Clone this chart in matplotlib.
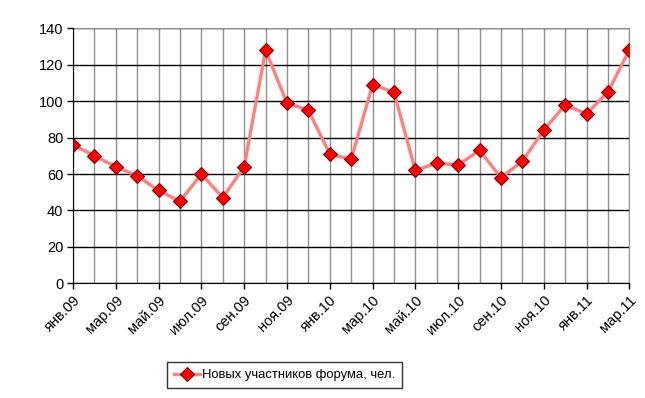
import matplotlib.pyplot as plt
from matplotlib.ticker import MultipleLocator

plt.rcParams["font.family"] = ["Liberation Sans", "DejaVu Sans"]

months = ["янв", "фев", "мар", "апр", "май", "июн", "июл", "авг", "сен", "окт", "ноя", "дек"]
dates = [f"{m}.{y}" for y in ("09", "10", "11") for m in months][:27]
new_members = [76, 70, 64, 59, 51, 45, 60, 47, 64, 128, 99, 95, 71, 68, 109, 105,
               62, 66, 65, 73, 58, 67, 84, 98, 93, 105, 128]
series_name = "Новых участников форума, чел."

W, H = 645, 398
fig = plt.figure(figsize=(W / 100, H / 100), dpi=100)
left, right, top, bottom = 73, 629.3, 28.3, 283.3
ax = fig.add_axes([left / W, (H - bottom) / H, (right - left) / W, (bottom - top) / H])

x = list(range(len(new_members)))
ax.plot(x, new_members, color="#ff8080", linewidth=2.4, marker="D", markersize=7.5,
        markerfacecolor="#ff0000", markeredgecolor="#800000", markeredgewidth=0.8,
        label=series_name, zorder=3)

ax.set_xlim(0, len(x) - 1)
ax.set_ylim(0, 140)
ax.yaxis.set_major_locator(MultipleLocator(20))
ax.set_xticks(x[::2])
ax.set_xticklabels(dates[::2], rotation=45, ha="right", va="top", rotation_mode="anchor")
ax.set_xticks(x, minor=True)
ax.tick_params(axis="x", which="minor", length=0)
ax.tick_params(axis="both", which="major", direction="out", length=4, width=1,
               color="black", labelsize=10.5, pad=3)

ax.grid(True, axis="y", color="black", linewidth=1)
ax.grid(True, axis="x", which="both", color="#909090", linewidth=1)
ax.set_axisbelow(True)

for side in ("top", "right"):
    ax.spines[side].set_color("#909090")
for side in ("left", "bottom"):
    ax.spines[side].set_color("black")
    ax.spines[side].set_zorder(4)

leg = fig.legend(loc="center", bbox_to_anchor=(284.5 / W, 1 - 375 / H), frameon=True,
                 fancybox=False, edgecolor="black", fontsize=9.4, handlelength=2.0,
                 borderpad=0.5, handletextpad=0.15, borderaxespad=0)
leg.get_frame().set_linewidth(1)

fig.savefig("out.png", dpi=100)
